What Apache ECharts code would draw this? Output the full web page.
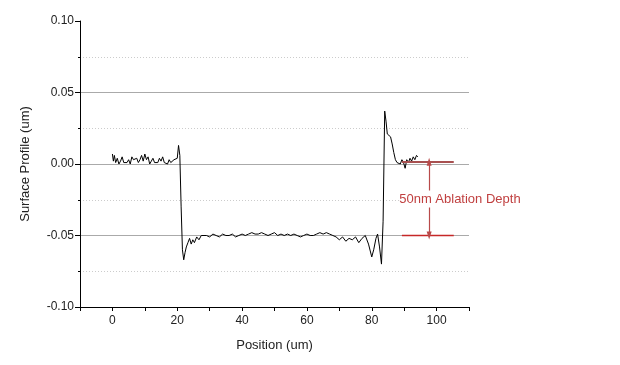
<!DOCTYPE html>
<html><head><meta charset="utf-8">
<script src="https://cdn.jsdelivr.net/npm/echarts@6/dist/echarts.min.js"></script>
<style>html,body{margin:0;padding:0;background:#fff}#c{width:620px;height:365px}</style>
</head><body><div id="c"></div>
<script>
const positions = [0,0.3,0.6,1,1.5,2,2.5,3,3.5,4,4.5,5,5.5,6,6.5,7,7.5,8,8.5,9,9.5,10,10.5,11,11.5,12,12.5,13,13.5,14,14.5,15,15.5,16,16.5,17,17.5,18,18.5,19,19.5,20,20.4,20.8,21.2,21.6,22,22.4,22.8,23.3,23.8,24.3,24.8,25.3,26,26.7,27.4,28,29,30,31,32,33,34,35,36,37,38,39,40,41,42,43,44,45,46,47,48,49,50,51,52,53,54,55,56,57,58,59,60,61,62,63,64,65,66,67,68,69,70,71,72,73,74,75,76,77,78,79,80,80.6,81.3,81.8,82.4,83,83.5,84,84.4,84.8,85.3,85.8,86.3,86.8,87.3,87.8,88.3,88.8,89.3,89.8,90.3,90.8,91.3,91.8,92.3,92.8,93.3,93.8,94.2];
const profile = [0.007,0.002,0.006,0.001,0.004,0.000,0.002,0.005,0.001,0.000,0.001,0.003,0.000,0.005,0.003,0.002,0.004,0.001,0.003,0.006,0.002,0.007,0.003,0.005,0.000,0.002,0.004,0.001,0.000,0.001,0.004,0.002,0.005,0.001,0.002,0.000,0.003,0.001,0.002,0.003,0.002,0.004,0.013,0.006,-0.030,-0.060,-0.067,-0.062,-0.058,-0.055,-0.052,-0.056,-0.053,-0.055,-0.051,-0.053,-0.050,-0.051,-0.050,-0.051,-0.049,-0.050,-0.051,-0.049,-0.050,-0.050,-0.049,-0.051,-0.050,-0.049,-0.050,-0.049,-0.048,-0.049,-0.049,-0.048,-0.049,-0.050,-0.049,-0.048,-0.050,-0.049,-0.050,-0.049,-0.050,-0.049,-0.050,-0.051,-0.050,-0.049,-0.050,-0.050,-0.049,-0.048,-0.049,-0.048,-0.049,-0.050,-0.051,-0.053,-0.051,-0.054,-0.052,-0.053,-0.051,-0.055,-0.052,-0.050,-0.056,-0.065,-0.060,-0.052,-0.049,-0.058,-0.070,-0.040,0.037,0.030,0.021,0.022,0.019,0.014,0.008,0.003,0.001,0.002,0.000,0.003,0.001,-0.003,0.003,0.001,0.004,0.002,0.005,0.003,0.006,0.005];
const xTicks = [0,20,40,60,80,100];
const yTicks = [-0.10,-0.05,0.00,0.05,0.10];
const depthLabel = '50nm Ablation Depth';
const topLevel = 0.0015, bottomLevel = -0.05;
const markX = [89.3, 105.3], arrowX = 97.7;

const font = "'Liberation Sans', Arial, sans-serif";
const red = '#c62828';
const chart = echarts.init(document.getElementById('c'));
chart.setOption({
  animation: false,
  grid: {left: 80, right: 151, top: 21, bottom: 58},
  xAxis: {
    type: 'value', min: -10, max: 110, interval: 10,
    name: 'Position (um)', nameLocation: 'middle', nameGap: 32,
    nameTextStyle: {fontFamily: font, fontSize: 13, color: '#222'},
    axisLine: {onZero: false, lineStyle: {color: '#000', width: 1}},
    axisTick: {lineStyle: {color: '#000'}, length: 4},
    axisLabel: {fontFamily: font, fontSize: 12, color: '#222', margin: 8,
      formatter: v => xTicks.includes(Math.round(v)) ? String(Math.round(v)) : ''},
    splitLine: {show: false}
  },
  yAxis: {
    type: 'value', min: -0.1, max: 0.1, interval: 0.05,
    name: 'Surface Profile (um)', nameLocation: 'middle', nameGap: 48,
    nameTextStyle: {fontFamily: font, fontSize: 13, color: '#222'},
    axisLine: {show: true, onZero: false, lineStyle: {color: '#000', width: 1}},
    axisTick: {show: true, lineStyle: {color: '#000'}, length: 5},
    minorTick: {show: true, splitNumber: 2, length: 2, lineStyle: {color: '#000'}},
    axisLabel: {fontFamily: font, fontSize: 12, color: '#222', margin: 6,
      formatter: v => { const t = yTicks.find(k => Math.abs(k - v) < 1e-6); return t === undefined ? '' : t.toFixed(2); }},
    splitLine: {show: true, showMinLine: false, showMaxLine: false, lineStyle: {color: '#aaa', width: 1}},
    minorSplitLine: {show: true, lineStyle: {color: '#ccc', type: [1, 2], width: 1}}
  },
  series: [{
    type: 'line', data: positions.map((p, i) => [p, profile[i]]),
    showSymbol: false, lineStyle: {color: '#000', width: 1}, z: 3,
    markLine: {
      silent: true, symbol: 'none', animation: false,
      lineStyle: {color: red, type: 'solid', width: 1.3},
      label: {show: false},
      data: [
        [{coord: [markX[0], topLevel], lineStyle: {color: '#a85050', width: 2}}, {coord: [markX[1], topLevel]}],
        [{coord: [markX[0], bottomLevel]}, {coord: [markX[1], bottomLevel]}],
        [{coord: [arrowX, topLevel], symbol: 'triangle', symbolSize: [5, 8], lineStyle: {color: '#b84a4a', width: 1.2}},
         {coord: [arrowX, bottomLevel], symbol: 'triangle', symbolSize: [5, 8]}]
      ]
    },
    markPoint: {
      silent: true, symbol: 'rect', symbolSize: 1, itemStyle: {color: 'rgba(0,0,0,0)'},
      label: {show: true, formatter: depthLabel, position: 'inside', fontFamily: font, fontSize: 13,
        color: '#c04040', backgroundColor: '#fff', padding: [2, 0]},
      data: [{coord: [107.2, -0.0245]}]
    }
  }]
});
</script></body></html>
